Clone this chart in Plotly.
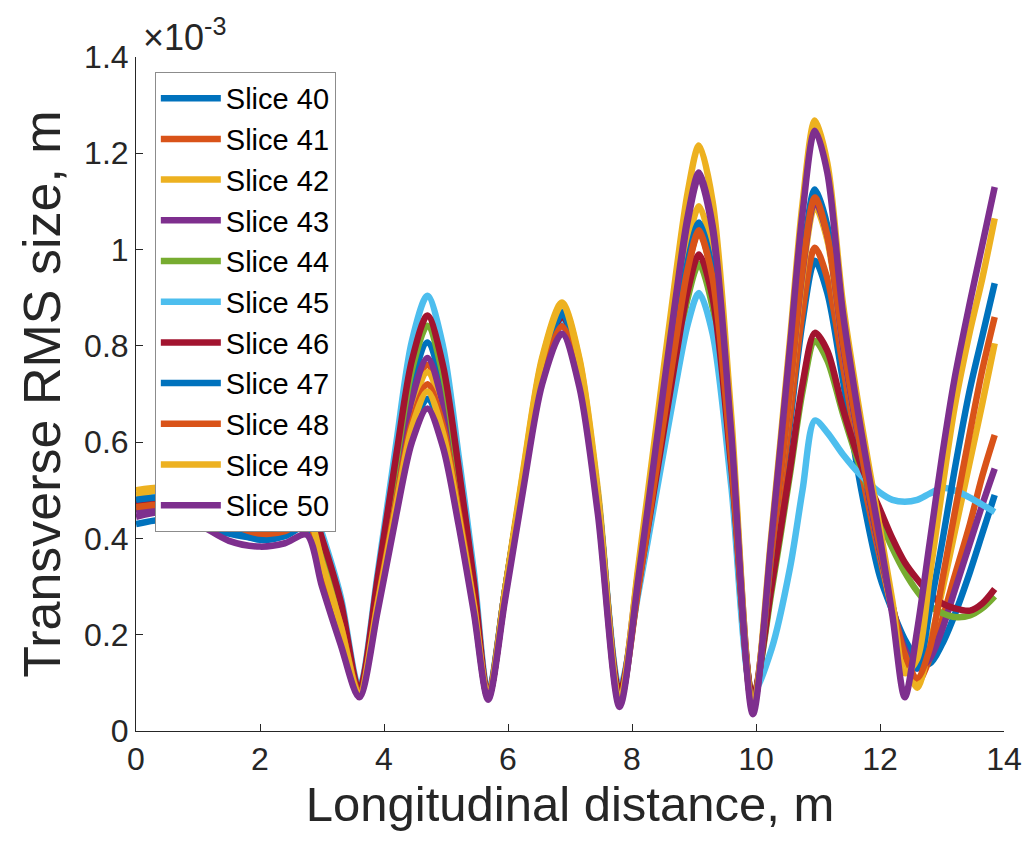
import plotly.graph_objects as go

# Longitudinal positions (m)
x_pos = [0.0, 0.5, 1.0, 1.5, 2.0, 2.4, 2.75, 3.0, 3.3, 3.6,
         3.9, 4.2, 4.45, 4.7, 4.95, 5.2, 5.45, 5.68,
         5.95, 6.25, 6.55, 6.87, 7.15, 7.45, 7.8,
         8.1, 8.4, 8.7, 8.9, 9.08, 9.3, 9.6, 9.95,
         10.25, 10.55, 10.75, 10.95, 11.15, 11.4, 11.7, 12.0, 12.2, 12.4,
         12.6, 12.8, 13.0, 13.2, 13.45, 13.65, 13.85]

# Transverse RMS size in units of 1e-3 m
slice_40 = [0.43, 0.44, 0.43, 0.41, 0.40, 0.405, 0.425, 0.33, 0.21, 0.08,
            0.30, 0.54, 0.72, 0.807, 0.71, 0.51, 0.29, 0.07,
            0.29, 0.53, 0.76, 0.87, 0.76, 0.49, 0.07,
            0.305, 0.56, 0.815, 0.97, 1.05, 0.95, 0.575, 0.06,
            0.335, 0.64, 0.85, 0.977, 0.91, 0.73, 0.50, 0.32, 0.25, 0.19,
            0.15, 0.14, 0.18, 0.24, 0.33, 0.41, 0.49]
slice_41 = [0.47, 0.48, 0.47, 0.45, 0.44, 0.44, 0.455, 0.35, 0.22, 0.08,
            0.28, 0.51, 0.68, 0.76, 0.67, 0.48, 0.28, 0.07,
            0.28, 0.52, 0.74, 0.85, 0.74, 0.475, 0.07,
            0.30, 0.55, 0.80, 0.96, 1.035, 0.94, 0.565, 0.06,
            0.345, 0.655, 0.87, 1.004, 0.94, 0.76, 0.54, 0.36, 0.25, 0.16,
            0.10, 0.15, 0.23, 0.32, 0.43, 0.53, 0.615]
slice_42 = [0.49, 0.50, 0.48, 0.45, 0.43, 0.435, 0.46, 0.36, 0.23, 0.08,
            0.28, 0.50, 0.665, 0.745, 0.66, 0.475, 0.27, 0.07,
            0.29, 0.545, 0.775, 0.89, 0.775, 0.50, 0.07,
            0.315, 0.58, 0.845, 1.01, 1.09, 0.99, 0.595, 0.06,
            0.37, 0.71, 0.945, 1.09, 1.02, 0.80, 0.57, 0.37, 0.25, 0.15,
            0.09, 0.18, 0.29, 0.41, 0.56, 0.68, 0.805]
slice_43 = [0.455, 0.465, 0.45, 0.42, 0.41, 0.415, 0.44, 0.34, 0.21, 0.08,
            0.29, 0.52, 0.69, 0.775, 0.68, 0.49, 0.28, 0.07,
            0.28, 0.52, 0.735, 0.845, 0.735, 0.47, 0.07,
            0.33, 0.61, 0.89, 1.06, 1.15, 1.04, 0.625, 0.06,
            0.37, 0.715, 0.955, 1.10, 1.03, 0.80, 0.57, 0.37, 0.26, 0.17,
            0.13, 0.15, 0.21, 0.29, 0.39, 0.47, 0.545]
slice_44 = [0.465, 0.48, 0.48, 0.47, 0.46, 0.46, 0.48, 0.38, 0.25, 0.085,
            0.31, 0.56, 0.75, 0.842, 0.74, 0.535, 0.305, 0.075,
            0.29, 0.53, 0.75, 0.86, 0.75, 0.485, 0.08,
            0.295, 0.525, 0.755, 0.90, 0.97, 0.88, 0.54, 0.07,
            0.29, 0.535, 0.705, 0.81, 0.77, 0.66, 0.54, 0.44, 0.38, 0.33,
            0.29, 0.26, 0.245, 0.237, 0.24, 0.255, 0.28]
slice_45 = [0.475, 0.49, 0.49, 0.48, 0.48, 0.48, 0.50, 0.41, 0.28, 0.09,
            0.33, 0.60, 0.81, 0.904, 0.80, 0.575, 0.33, 0.08,
            0.29, 0.53, 0.745, 0.855, 0.75, 0.49, 0.09,
            0.285, 0.50, 0.715, 0.845, 0.91, 0.825, 0.51, 0.08,
            0.17, 0.34, 0.50, 0.645, 0.62, 0.575, 0.53, 0.495, 0.48, 0.476,
            0.48, 0.493, 0.505, 0.50, 0.485, 0.47, 0.455]
slice_46 = [0.47, 0.485, 0.485, 0.475, 0.47, 0.47, 0.49, 0.40, 0.27, 0.085,
            0.32, 0.575, 0.77, 0.863, 0.76, 0.55, 0.31, 0.075,
            0.29, 0.53, 0.75, 0.86, 0.75, 0.485, 0.08,
            0.30, 0.535, 0.77, 0.915, 0.99, 0.90, 0.55, 0.07,
            0.30, 0.545, 0.72, 0.827, 0.79, 0.67, 0.55, 0.46, 0.40, 0.35,
            0.315, 0.285, 0.265, 0.255, 0.25, 0.265, 0.295]
slice_47 = [0.48, 0.485, 0.46, 0.42, 0.397, 0.405, 0.43, 0.33, 0.21, 0.08,
            0.26, 0.46, 0.62, 0.69, 0.61, 0.44, 0.255, 0.07,
            0.285, 0.53, 0.755, 0.865, 0.75, 0.48, 0.06,
            0.30, 0.56, 0.815, 0.975, 1.056, 0.955, 0.575, 0.05,
            0.37, 0.73, 0.975, 1.125, 1.05, 0.82, 0.58, 0.38, 0.26, 0.16,
            0.13, 0.25, 0.39, 0.54, 0.71, 0.82, 0.93]
slice_48 = [0.465, 0.47, 0.455, 0.43, 0.41, 0.415, 0.44, 0.34, 0.22, 0.08,
            0.27, 0.48, 0.64, 0.72, 0.635, 0.46, 0.265, 0.07,
            0.28, 0.52, 0.73, 0.84, 0.73, 0.465, 0.06,
            0.295, 0.55, 0.805, 0.96, 1.04, 0.94, 0.565, 0.05,
            0.37, 0.715, 0.96, 1.108, 1.03, 0.81, 0.58, 0.38, 0.26, 0.16,
            0.11, 0.17, 0.31, 0.45, 0.62, 0.75, 0.86]
slice_49 = [0.50, 0.505, 0.48, 0.445, 0.425, 0.43, 0.45, 0.35, 0.22, 0.075,
            0.265, 0.47, 0.63, 0.705, 0.62, 0.45, 0.26, 0.07,
            0.29, 0.54, 0.77, 0.885, 0.77, 0.49, 0.06,
            0.34, 0.64, 0.94, 1.12, 1.216, 1.10, 0.655, 0.045,
            0.41, 0.815, 1.095, 1.268, 1.18, 0.89, 0.64, 0.42, 0.27, 0.12,
            0.15, 0.32, 0.50, 0.67, 0.83, 0.94, 1.065]
slice_50 = [0.445, 0.455, 0.43, 0.395, 0.383, 0.39, 0.408, 0.30, 0.18, 0.07,
            0.25, 0.45, 0.60, 0.67, 0.59, 0.43, 0.245, 0.065,
            0.27, 0.505, 0.72, 0.825, 0.715, 0.45, 0.05,
            0.315, 0.605, 0.895, 1.07, 1.16, 1.05, 0.62, 0.035,
            0.40, 0.80, 1.075, 1.247, 1.16, 0.87, 0.62, 0.40, 0.24, 0.07,
            0.21, 0.39, 0.57, 0.73, 0.89, 1.01, 1.13]

slice_names = ["Slice 40", "Slice 41", "Slice 42", "Slice 43", "Slice 44", "Slice 45",
               "Slice 46", "Slice 47", "Slice 48", "Slice 49", "Slice 50"]
slice_values = [slice_40, slice_41, slice_42, slice_43, slice_44, slice_45,
                slice_46, slice_47, slice_48, slice_49, slice_50]

x_ticks = [0, 2, 4, 6, 8, 10, 12, 14]
y_ticks = [0, 0.2, 0.4, 0.6, 0.8, 1.0, 1.2, 1.4]
y_tick_text = ["0", "0.2", "0.4", "0.6", "0.8", "1", "1.2", "1.4"]

palette = ["#0072BD", "#D95319", "#EDB120", "#7E2F8E", "#77AC30", "#4DBEEE", "#A2142F"]

FONT = "Liberation Sans, Arial, Helvetica, sans-serif"
TXT = "#262626"

fig = go.Figure()
for i, (name, vals) in enumerate(zip(slice_names, slice_values)):
    fig.add_trace(go.Scatter(
        x=x_pos, y=vals, name=name, mode="lines",
        line=dict(color=palette[i % len(palette)], width=6.5, shape="spline", smoothing=0.85),
    ))

fig.update_layout(
    width=1026, height=827,
    paper_bgcolor="white", plot_bgcolor="white",
    margin=dict(l=128, r=23, t=49, b=104),
    font=dict(family=FONT, color=TXT),
    showlegend=True,
    legend=dict(
        x=0.0217, y=0.978, xanchor="left", yanchor="top",
        bgcolor="white", bordercolor="#8c8c8c", borderwidth=1,
        font=dict(size=29, color="black", family=FONT),
        tracegroupgap=0, itemwidth=60,
    ),
    xaxis=dict(
        range=[0, 14], tickvals=x_ticks, ticks="inside", ticklen=7,
        tickcolor=TXT, showline=True, linecolor=TXT, linewidth=1,
        showgrid=False, zeroline=False, ticklabeloverflow="allow",
        tickfont=dict(size=32, color=TXT),
        title=dict(text="Longitudinal distance, m", font=dict(size=49, color=TXT), standoff=6),
    ),
    yaxis=dict(
        range=[0, 1.4], tickvals=y_ticks, ticktext=y_tick_text, ticks="inside", ticklen=7,
        tickcolor=TXT, showline=True, linecolor=TXT, linewidth=1,
        showgrid=False, zeroline=False,
        tickfont=dict(size=32, color=TXT),
        title=dict(text="Transverse RMS size, m", font=dict(size=52, color=TXT), standoff=6),
    ),
    annotations=[dict(
        text="×10<sup>-3</sup>", xref="paper", yref="paper",
        x=0.006, y=0.995, xanchor="left", yanchor="bottom",
        showarrow=False, font=dict(size=36, color=TXT, family=FONT),
    )],
)

fig.write_html("out.html")
